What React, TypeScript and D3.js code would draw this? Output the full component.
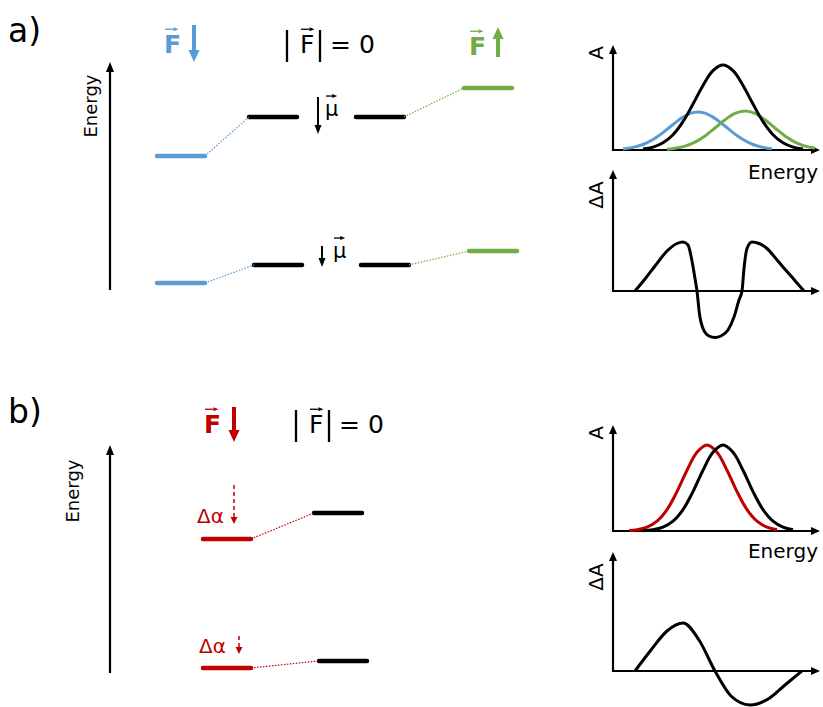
import React from 'react'
import * as d3 from 'd3'

const BLUE = '#5B9BD5'
const GREEN = '#70AD47'
const RED = '#C00000'
const FONT = 'DejaVu Sans, sans-serif'

// a) level diagram: columns F down, |F|=0 (two), F up ; energies in arbitrary units
const columnsA = ['down', 'zeroL', 'zeroR', 'up']
const colorsA = [BLUE, '#000', '#000', GREEN]
const upperA = [58.8, 75.9, 75.9, 88.6]
const lowerA = [3.1, 11.0, 11.0, 17.1]

// b) level diagram: F down, |F|=0
const columnsB = ['down', 'zero']
const colorsB = [RED, '#000']
const upperB = [58.8, 70.2]
const lowerB = [2.2, 5.3]

// a) absorption spectra [energy, A]
const absBlackA = [[1.5, 0.011], [2.0, 0.029], [2.5, 0.072], [3.0, 0.153], [3.5, 0.284], [4.0, 0.459], [4.5, 0.646], [5.0, 0.794], [5.5, 0.85], [6.0, 0.794], [6.5, 0.646], [7.0, 0.459], [7.5, 0.284], [8.0, 0.153], [8.5, 0.072], [9.0, 0.029], [9.5, 0.011]]
const absBlueA = [[0.5, 0.011], [1.0, 0.026], [1.5, 0.055], [2.0, 0.105], [2.5, 0.174], [3.0, 0.255], [3.5, 0.329], [4.0, 0.374], [4.5, 0.374], [5.0, 0.329], [5.5, 0.255], [6.0, 0.174], [6.5, 0.105], [7.0, 0.055], [7.5, 0.026], [7.95, 0.012]]
const absGreenA = [[2.7, 0.008], [3.1, 0.017], [3.6, 0.039], [4.1, 0.079], [4.6, 0.141], [5.1, 0.22], [5.6, 0.302], [6.1, 0.366], [6.6, 0.39], [7.1, 0.366], [7.6, 0.302], [8.1, 0.22], [8.6, 0.141], [9.1, 0.079], [9.6, 0.039], [10.1, 0.017]]
// a) difference spectrum [energy, dA]
const diffA = [[1.1, 0], [1.6, 0.24], [2.1, 0.5], [2.7, 0.8], [3.2, 0.95], [3.5, 0.98], [3.75, 0.92], [3.95, 0.6], [4.1, 0.25], [4.2, 0], [4.32, -0.45], [4.5, -0.75], [4.8, -0.9], [5.1, -0.93], [5.4, -0.9], [5.75, -0.78], [6.05, -0.52], [6.3, -0.18], [6.45, 0], [6.55, 0.45], [6.7, 0.85], [6.95, 0.98], [7.3, 0.95], [7.7, 0.85], [8.1, 0.67], [8.5, 0.48], [8.9, 0.3], [9.2, 0.16], [9.55, 0]]

// b) absorption spectra
const absBlackB = [[1.5, 0.003], [2.0, 0.012], [2.5, 0.038], [3.0, 0.098], [3.5, 0.214], [4.0, 0.394], [4.5, 0.608], [5.0, 0.788], [5.5, 0.86], [6.0, 0.788], [6.5, 0.608], [7.0, 0.394], [7.5, 0.214], [8.0, 0.098], [8.5, 0.038], [9.0, 0.012]]
const absRedB = [[0.8, 0.004], [1.2, 0.012], [1.7, 0.038], [2.2, 0.098], [2.7, 0.214], [3.2, 0.394], [3.7, 0.608], [4.2, 0.788], [4.7, 0.86], [5.2, 0.788], [5.7, 0.608], [6.2, 0.394], [6.7, 0.214], [7.2, 0.098], [7.7, 0.038], [8.2, 0.012]]
const diffB = [[1.1, 0], [1.9, 0.42], [2.7, 0.8], [3.5, 0.96], [4.3, 0.62], [5.1, 0], [5.9, -0.5], [6.85, -0.68], [7.8, -0.55], [8.6, -0.28], [9.45, 0]]

function Arrow({ x1, y1, x2, y2, color = '#000', width = 2, head = 8, headW = 7, dash }: any) {
  const dx = x2 - x1
  const dy = y2 - y1
  const len = Math.hypot(dx, dy)
  const ux = dx / len
  const uy = dy / len
  const bx = x2 - ux * head
  const by = y2 - uy * head
  const px = (-uy * headW) / 2
  const py = (ux * headW) / 2
  return (
    <g>
      <line x1={x1} y1={y1} x2={bx} y2={by} stroke={color} strokeWidth={width} strokeDasharray={dash} />
      <polygon points={`${x2},${y2} ${bx + px},${by + py} ${bx - px},${by - py}`} fill={color} />
    </g>
  )
}

// letter with small vector arrow over it
function Vec({ x, y, text, size, color = '#000', weight = 'normal' }: any) {
  return (
    <g>
      <text x={x} y={y} fontSize={size} fill={color} fontWeight={weight} fontFamily={FONT}>{text}</text>
      <Arrow x1={x + 1} y1={y - size * 0.95} x2={x + size * 0.58} y2={y - size * 0.95} color={color} width={1.3} head={5} headW={4} />
    </g>
  )
}

function AbsZero({ x, y }: any) {
  return (
    <g>
      <line x1={x} y1={y - 23} x2={x} y2={y + 9} stroke="#000" strokeWidth={2.3} />
      <Vec x={x + 13} y={y} text="F" size={25} />
      <line x1={x + 33} y1={y - 23} x2={x + 33} y2={y + 9} stroke="#000" strokeWidth={2.3} />
      <text x={x + 43} y={y} fontSize={25} fontFamily={FONT}>= 0</text>
    </g>
  )
}

function Levels({ cols, colors, rows, x, y, half, shift }: any) {
  return (
    <g>
      {rows.map((row: number[], r: number) => {
        const sx = (i: number) => (x(cols[i]) as number) + (i > 0 ? shift[r] : 0)
        return (
          <g key={r}>
            {row.map((e, i) => (
              <line key={i} x1={sx(i) - half} x2={sx(i) + half} y1={y(e)} y2={y(e)}
                stroke={colors[i]} strokeWidth={4.5} strokeLinecap="round" />
            ))}
            {row.slice(1).map((e, j) => {
              const i = j + 1
              if (colors[i] === colors[i - 1]) return null
              const c = colors[i] === '#000' ? colors[i - 1] : colors[i]
              return (
                <line key={'c' + i} x1={sx(i - 1) + half} y1={y(row[i - 1])} x2={sx(i) - half} y2={y(e)}
                  stroke={c} strokeWidth={1.2} strokeDasharray="1.5 1.5" />
              )
            })}
          </g>
        )
      })}
    </g>
  )
}

function Spectrum({ x, yAbs, yDif, abs, absColors, diff, absTop, difTop, labelY }: any) {
  const lineAbs = (d: number[][]) => d3.line<number[]>().x((p) => x(p[0])).y((p) => yAbs(p[1])).curve(d3.curveCatmullRom.alpha(0.5))(d) as string
  const lineDif = d3.line<number[]>().x((p) => x(p[0])).y((p) => yDif(p[1])).curve(d3.curveMonotoneX)
  const x0 = x(0)
  const xEnd = x(10.35)
  return (
    <g>
      <Arrow x1={x0} y1={yAbs(0) + 1} x2={x0} y2={yAbs(absTop)} width={2.2} head={9} headW={8} />
      <Arrow x1={x0 - 1} y1={yAbs(0)} x2={xEnd} y2={yAbs(0)} width={2.2} head={9} headW={8} />
      {abs.map((d: number[][], i: number) => (
        <path key={i} d={lineAbs(d)} fill="none" stroke={absColors[i]} strokeWidth={3} />
      ))}
      <text x={818} y={labelY} textAnchor="end" fontSize={20} fontFamily={FONT}>Energy</text>
      <Arrow x1={x0} y1={yDif(0) + 1} x2={x0} y2={yDif(difTop)} width={2.2} head={9} headW={8} />
      <Arrow x1={x0 - 1} y1={yDif(0)} x2={xEnd} y2={yDif(0)} width={2.2} head={9} headW={8} />
      <path d={lineDif(diff as any) as string} fill="none" stroke="#000" strokeWidth={3} strokeLinejoin="round" />
      <text transform={`translate(603,${yAbs(absTop) + 8}) rotate(-90)`} textAnchor="middle" fontSize={20} fontFamily={FONT}>A</text>
      <text transform={`translate(603,${yDif(difTop) + 25}) rotate(-90)`} textAnchor="middle" fontSize={20} fontFamily={FONT}>ΔA</text>
    </g>
  )
}

export default function App() {
  // a) level diagram scales
  const yA = d3.scaleLinear().domain([0, 100]).range([290, 62])
  const xA = d3.scaleOrdinal<string, number>().domain(columnsA).range([181, 273, 380, 488])
  // b) level diagram scales
  const yB = d3.scaleLinear().domain([0, 100]).range([673, 445])
  const xB = d3.scaleOrdinal<string, number>().domain(columnsB).range([227, 338])

  // spectra scales
  const xS = d3.scaleLinear().domain([0, 10]).range([613, 813])
  const yAbsA = d3.scaleLinear().domain([0, 1]).range([150, 50])
  const yDifA = d3.scaleLinear().domain([0, 1]).range([291, 241])
  const yAbsB = d3.scaleLinear().domain([0, 1]).range([531, 431])
  const yDifB = d3.scaleLinear().domain([0, 1]).range([671, 621])

  return (
    <svg width={823} height={707} style={{ position: 'absolute', left: 0, top: 0, background: '#fff' }} fontFamily={FONT}>
      {/* ---------- a) ---------- */}
      <text x={8} y={42} fontSize={33}>a)</text>
      <Arrow x1={110} y1={yA(0)} x2={110} y2={yA(100)} width={2.2} head={10} headW={8} />
      <text transform="translate(97,106) rotate(-90)" textAnchor="middle" fontSize={18}>Energy</text>

      <Vec x={164} y={53} text="F" size={25} color={BLUE} weight="bold" />
      <Arrow x1={194} y1={25} x2={194} y2={62} color={BLUE} width={4} head={12} headW={11} />
      <AbsZero x={287} y={53} />
      <Vec x={469} y={55} text="F" size={25} color={GREEN} weight="bold" />
      <Arrow x1={498} y1={57} x2={498} y2={27} color={GREEN} width={4} head={12} headW={11} />

      <Levels cols={columnsA} colors={colorsA} rows={[upperA, lowerA]} x={xA} y={yA} half={24} shift={[0, 5]} />

      <Arrow x1={318} y1={97} x2={318} y2={134} width={2} head={9} headW={7} />
      <Vec x={325} y={116} text="μ" size={21} />
      <Arrow x1={322} y1={246} x2={322} y2={267} width={2} head={9} headW={7} />
      <Vec x={333} y={258} text="μ" size={21} />

      <Spectrum x={xS} yAbs={yAbsA} yDif={yDifA} abs={[absBlueA, absGreenA, absBlackA]} absColors={[BLUE, GREEN, '#000']}
        diff={diffA} absTop={1.05} difTop={2.42} labelY={179} />

      {/* ---------- b) ---------- */}
      <text x={8} y={423} fontSize={33}>b)</text>
      <Arrow x1={110} y1={yB(0)} x2={110} y2={yB(100)} width={2.2} head={10} headW={8} />
      <text transform="translate(79,491) rotate(-90)" textAnchor="middle" fontSize={18}>Energy</text>

      <Vec x={204} y={433} text="F" size={25} color={RED} weight="bold" />
      <Arrow x1={234} y1={407} x2={234} y2={442} color={RED} width={4} head={12} headW={11} />
      <AbsZero x={296} y={433} />

      <Levels cols={columnsB} colors={colorsB} rows={[upperB, lowerB]} x={xB} y={yB} half={24} shift={[0, 5]} />

      <text x={197} y={523} fontSize={20} fill={RED}>Δα</text>
      <Arrow x1={234} y1={485} x2={234} y2={524} color={RED} width={1.5} head={7} headW={7} dash="4 3" />
      <text x={199} y={653} fontSize={20} fill={RED}>Δα</text>
      <Arrow x1={239} y1={636} x2={239} y2={654} color={RED} width={1.5} head={7} headW={7} dash="4 3" />

      <Spectrum x={xS} yAbs={yAbsB} yDif={yDifB} abs={[absRedB, absBlackB]} absColors={[RED, '#000']}
        diff={diffB} absTop={1.06} difTop={2.38} labelY={558} />
    </svg>
  )
}
